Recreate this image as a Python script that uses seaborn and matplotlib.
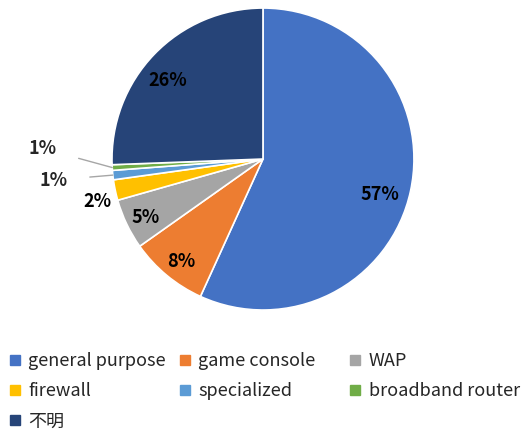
import numpy as np
import seaborn as sns
import matplotlib.pyplot as plt
from matplotlib.lines import Line2D

categories = ["general purpose", "game console", "WAP", "firewall",
              "specialized", "broadband router", "不明"]
shares = [56.8, 8.4, 5.4, 2.2, 1.0, 0.6, 25.6]
colors = ["#4472C4", "#ED7D31", "#A5A5A5", "#FFC000",
          "#5B9BD5", "#70AD47", "#264478"]

sns.set_style("white")
plt.rcParams['font.family'] = ['Noto Sans CJK JP', 'DejaVu Sans']

fig = plt.figure(figsize=(5.27, 4.32), dpi=100)
ax = fig.add_axes([0.2125, 0.2824, 0.573, 0.699])

wedges, _ = ax.pie(shares, colors=colors, startangle=90, counterclock=False,
                   radius=1, wedgeprops=dict(edgecolor="white", linewidth=1.2))
ax.set_xlim(-1, 1)
ax.set_ylim(-1, 1)
ax.set_aspect("equal")
ax.axis("off")

labels = [f"{v:.0f}%" for v in shares]
lab_fs = 13

# label placement: (radius, angle shift in degrees) per slice
place = {0: (0.81, -4.5), 1: (0.87, 1), 2: (0.87, 1), 3: (1.13, 2.6), 6: (0.82, 4.5)}
for i, (r, shift) in place.items():
    w = wedges[i]
    mid = np.deg2rad((w.theta1 + w.theta2) / 2 + shift)
    ax.text(r * np.cos(mid), r * np.sin(mid), labels[i], ha="center", va="center",
            fontsize=lab_fs, fontweight="bold", color="black", clip_on=False)

# thin slices get a leader line
outside = {4: (-1.39, -0.14), 5: (-1.46, 0.07)}
for i, (tx, ty) in outside.items():
    w = wedges[i]
    mid = np.deg2rad((w.theta1 + w.theta2) / 2)
    ax.annotate(labels[i], xy=(np.cos(mid), np.sin(mid)), xytext=(tx, ty),
                ha="center", va="center", fontsize=lab_fs, fontweight="bold",
                annotation_clip=False,
                arrowprops=dict(arrowstyle="-", color="#A6A6A6", lw=1,
                                shrinkA=14, shrinkB=0))

# legend: three fixed-width columns, filled row by row
columns = [[0, 3, 6], [1, 4], [2, 5]]
col_x = [0.018, 0.34, 0.664]
for idx, x0 in zip(columns, col_x):
    handles = [Line2D([], [], marker="s", linestyle="none", markersize=7,
                      markerfacecolor=colors[i], markeredgecolor=colors[i]) for i in idx]
    fig.legend(handles, [categories[i] for i in idx], loc="upper left",
               bbox_to_anchor=(x0, 0.185), frameon=False, fontsize=13,
               handlelength=0.6, handletextpad=0.45, labelspacing=0.68,
               borderaxespad=0, borderpad=0)

fig.savefig("out.png", dpi=100)
